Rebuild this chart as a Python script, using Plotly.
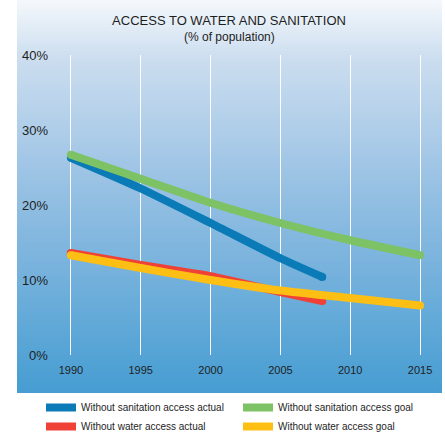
import plotly.graph_objects as go

# ---- data ----
years_actual = [1990, 1995, 2000, 2005, 2008]
years_goal = [1990, 1995, 2000, 2005, 2010, 2015]
san_actual = [26.3, 22.2, 17.6, 12.9, 10.4]
san_goal = [26.7, 23.5, 20.3, 17.6, 15.3, 13.3]
water_actual = [13.6, 12.0, 10.5, 8.4, 7.2]
water_goal = [13.3, 11.6, 10.0, 8.6, 7.6, 6.6]
y_ticks = [0, 10, 20, 30, 40]
y_tick_labels = ["0%", "10%", "20%", "30%", "40%"]
x_ticks = [1990, 1995, 2000, 2005, 2010, 2015]
series_names = [
    "Without sanitation access actual",
    "Without sanitation access goal",
    "Without water access actual",
    "Without water access goal",
]
colors = ["#0a7bb6", "#7dc265", "#ef4136", "#fdbf14"]

W, H = 445, 433
ML, MR, MT, MB = 22, 4, 55, 78
LW = 8
FONT = "Liberation Sans, Arial, Helvetica, sans-serif"

fig = go.Figure()
series = [
    (years_actual, san_actual),
    (years_goal, san_goal),
    (years_actual, water_actual),
    (years_goal, water_goal),
]
for (xs, ys), name, c in zip(series, series_names, colors):
    fig.add_trace(go.Scatter(
        x=xs, y=ys, mode="lines", name=name,
        line=dict(color=c, width=LW, shape="spline", smoothing=0.6),
    ))
    fig.add_trace(go.Scatter(
        x=[xs[0], xs[-1]], y=[ys[0], ys[-1]], mode="markers",
        marker=dict(color=c, size=LW, line=dict(width=0)),
        showlegend=False, hoverinfo="skip",
    ))

# gradient panel background
plot_h = H - MT - MB
plot_w = W - ML - MR
def px_to_py(py):
    return (H - MB - py) / plot_h
def px_to_px(px):
    return (px - ML) / plot_w

stops = [(0, (245, 248, 252)), (60, (203, 221, 239)), (200, (146, 190, 226)), (393, (70, 157, 210))]
def col_at(py):
    for (a, ca), (b, cb) in zip(stops[:-1], stops[1:]):
        if a <= py <= b:
            t = (py - a) / (b - a)
            return tuple(round(ca[i] + (cb[i] - ca[i]) * t) for i in range(3))
    return stops[-1][1]

shapes = []
top, bottom = 0, 393
step = 3
py = top
while py < bottom:
    nb = min(py + step, bottom)
    r, g, b = col_at((py + nb) / 2)
    shapes.append(dict(
        type="rect", xref="paper", yref="paper", layer="below",
        x0=px_to_px(17), x1=px_to_px(442),
        y0=px_to_py(min(nb + 0.6, bottom)), y1=px_to_py(py),
        fillcolor=f"rgb({r},{g},{b})", line=dict(width=0),
    ))
    py = nb

annotations = [
    dict(text=lab, x=1988.5, y=v, xref="x", yref="y", xanchor="right", yanchor="middle",
         showarrow=False, font=dict(family=FONT, size=13, color="#1e1e1e"))
    for v, lab in zip(y_ticks, y_tick_labels)
]
annotations.append(dict(
    text="(% of population)", x=px_to_px(229), y=px_to_py(37), xref="paper", yref="paper",
    xanchor="center", yanchor="middle", showarrow=False,
    font=dict(family=FONT, size=12, color="#1e1e1e"),
))

fig.update_layout(
    width=W, height=H,
    margin=dict(l=ML, r=MR, t=MT, b=MB),
    paper_bgcolor="white",
    plot_bgcolor="rgba(0,0,0,0)",
    title=dict(text="ACCESS TO WATER AND SANITATION", x=229 / W, y=1 - 20 / H,
               xanchor="center", yanchor="middle",
               font=dict(family=FONT, size=13, color="#1e1e1e")),
    shapes=shapes,
    annotations=annotations,
    showlegend=True,
    legend=dict(
        orientation="h", xref="container", yref="container",
        x=41 / W, y=1 - 393 / H, xanchor="left", yanchor="top",
        entrywidth=152, entrywidthmode="pixels", traceorder="normal",
        font=dict(family=FONT, size=10, color="#1e1e1e"),
        bgcolor="rgba(0,0,0,0)",
    ),
    xaxis=dict(
        range=[1986.5, 2016.5], tickvals=x_ticks, showgrid=True, gridcolor="white", gridwidth=1,
        zeroline=False, showline=False, ticks="outside", ticklen=5, tickcolor="rgba(0,0,0,0)",
        tickfont=dict(family=FONT, size=11, color="#1e1e1e"),
        fixedrange=True,
    ),
    yaxis=dict(
        range=[0, 40], tickvals=y_ticks, showticklabels=False, showgrid=False,
        zeroline=False, showline=False, fixedrange=True,
    ),
)

fig.write_html("out.html", config={"displayModeBar": False},
               post_script="document.body.style.margin='0px';")
